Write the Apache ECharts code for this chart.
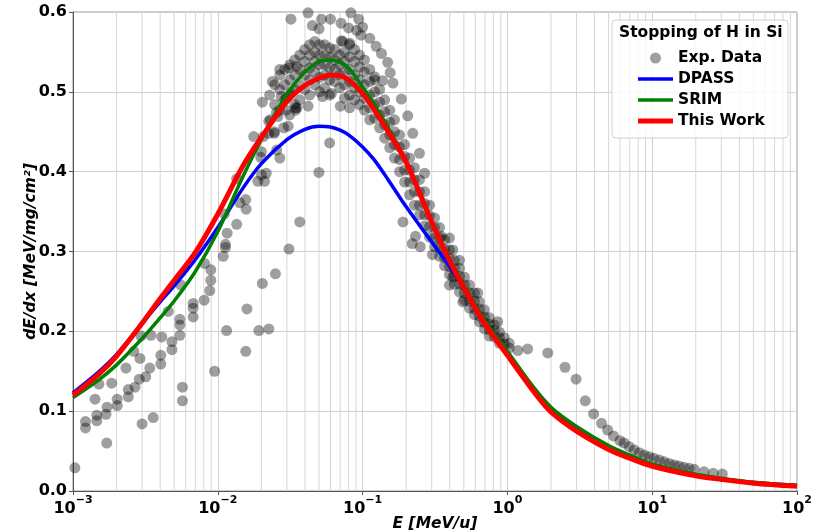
<!DOCTYPE html>
<html><head><meta charset="utf-8">
<script src="https://cdn.jsdelivr.net/npm/echarts@6/dist/echarts.min.js"></script>
<style>html,body{margin:0;padding:0;background:#fff}#c{width:821px;height:532px}</style>
</head><body><div id="c"></div>
<script>
// ---- curve data (E in MeV/u, dE/dx in MeV/(mg/cm^2)) ----
const curveE = [0.001,0.0015,0.002,0.003,0.004,0.005,0.007,0.01,0.015,0.02,0.03,0.04,0.05,0.06,0.07,0.08,0.1,0.12,0.15,0.2,0.3,0.4,0.5,0.7,1,1.5,2,3,5,7,10,20,30,50,100];
const dpassY = [0.123,0.149,0.171,0.210,0.237,0.257,0.290,0.330,0.380,0.410,0.440,0.453,0.457,0.456,0.452,0.446,0.431,0.415,0.390,0.356,0.312,0.281,0.255,0.212,0.173,0.129,0.103,0.080,0.056,0.044,0.033,0.0205,0.0155,0.0105,0.007];
const srimY  = [0.117,0.139,0.158,0.191,0.217,0.238,0.275,0.325,0.395,0.440,0.497,0.525,0.538,0.540,0.537,0.530,0.506,0.485,0.455,0.412,0.338,0.290,0.258,0.213,0.175,0.131,0.105,0.081,0.057,0.045,0.034,0.021,0.016,0.011,0.0072];
const thisWorkY = [0.120,0.146,0.169,0.210,0.241,0.264,0.299,0.347,0.408,0.443,0.488,0.508,0.517,0.521,0.520,0.515,0.498,0.478,0.450,0.412,0.337,0.288,0.255,0.209,0.170,0.126,0.099,0.075,0.052,0.041,0.031,0.019,0.0145,0.0098,0.006];

// ---- experimental points [E, dE/dx] ----
const expLow = [[0.00103,0.029],[0.00122,0.087],[0.00122,0.079],[0.00142,0.115],[0.00146,0.095],[0.00146,0.088],[0.00151,0.134],[0.00171,0.060],[0.00169,0.096],[0.00172,0.105],[0.00185,0.135],[0.00202,0.115],[0.00202,0.107],[0.00232,0.154],[0.00241,0.127],[0.00241,0.118],[0.00263,0.175],[0.00268,0.130],[0.00287,0.140],[0.0029,0.166],[0.0030,0.084],[0.00295,0.194],[0.00318,0.143],[0.00339,0.154],[0.00345,0.195],[0.00358,0.092],[0.00404,0.159],[0.00404,0.170],[0.0041,0.193],[0.00454,0.225],[0.00482,0.177],[0.00482,0.187],[0.00547,0.195],[0.00547,0.208],[0.00547,0.215],[0.0057,0.130],[0.0057,0.113],[0.00555,0.258],[0.00676,0.235],[0.00676,0.229],[0.00676,0.218],[0.00805,0.239],[0.0081,0.285],[0.00895,0.277],[0.00895,0.264],[0.0088,0.251],[0.0095,0.150],[0.0109,0.294],[0.0113,0.305],[0.0113,0.309],[0.0116,0.323],[0.0111,0.347],[0.0115,0.201],[0.0135,0.334],[0.0135,0.391],[0.0142,0.361],[0.0156,0.365],[0.0157,0.353],[0.0156,0.175],[0.0159,0.228],[0.0192,0.201],[0.0225,0.203],[0.0203,0.260],[0.025,0.272],[0.031,0.303],[0.0368,0.337],[0.0189,0.388],[0.021,0.388],[0.020,0.396],[0.0216,0.398],[0.0198,0.418],[0.020,0.425],[0.0255,0.427],[0.0268,0.417],[0.0177,0.444],[0.0206,0.444],[0.0225,0.448],[0.0246,0.448],[0.0245,0.450],[0.0285,0.455],[0.0225,0.463],[0.023,0.465],[0.026,0.469],[0.0254,0.474],[0.0297,0.477],[0.0345,0.477],[0.0306,0.457],[0.0203,0.487],[0.0274,0.494],[0.0297,0.492],[0.032,0.499],[0.0345,0.480],[0.0238,0.513],[0.0268,0.528],[0.031,0.530],[0.035,0.532],[0.032,0.591]];
const expPeak = [[0.0228,0.496],[0.0247,0.509],[0.0247,0.484],[0.0268,0.521],[0.0268,0.503],[0.0268,0.477],[0.0290,0.528],[0.0290,0.509],[0.0290,0.490],[0.0314,0.534],[0.0314,0.515],[0.0314,0.496],[0.0314,0.471],[0.0340,0.540],[0.0340,0.521],[0.0340,0.503],[0.0340,0.484],[0.0368,0.546],[0.0368,0.528],[0.0368,0.509],[0.0368,0.490],[0.0398,0.553],[0.0398,0.538],[0.0398,0.521],[0.0398,0.503],[0.0431,0.559],[0.0431,0.546],[0.0431,0.530],[0.0431,0.515],[0.0431,0.496],[0.0467,0.563],[0.0467,0.550],[0.0467,0.538],[0.0467,0.525],[0.0467,0.509],[0.0505,0.559],[0.0505,0.546],[0.0505,0.534],[0.0505,0.518],[0.0505,0.500],[0.0547,0.559],[0.0547,0.546],[0.0547,0.534],[0.0547,0.521],[0.0547,0.505],[0.0592,0.555],[0.0592,0.543],[0.0592,0.530],[0.0592,0.515],[0.0592,0.496],[0.0641,0.553],[0.0641,0.540],[0.0641,0.528],[0.0641,0.513],[0.0694,0.546],[0.0694,0.534],[0.0694,0.521],[0.0694,0.505],[0.0751,0.550],[0.0751,0.538],[0.0751,0.525],[0.0751,0.509],[0.0751,0.492],[0.0813,0.559],[0.0813,0.544],[0.0813,0.528],[0.0813,0.513],[0.0813,0.496],[0.0813,0.480],[0.0881,0.553],[0.0881,0.538],[0.0881,0.521],[0.0881,0.505],[0.0881,0.490],[0.0953,0.546],[0.0953,0.531],[0.0953,0.515],[0.0953,0.500],[0.0953,0.484],[0.103,0.540],[0.103,0.525],[0.103,0.509],[0.103,0.492],[0.103,0.477],[0.112,0.528],[0.112,0.513],[0.112,0.496],[0.112,0.480],[0.112,0.465],[0.121,0.515],[0.121,0.500],[0.121,0.484],[0.121,0.467],[0.131,0.503],[0.131,0.487],[0.131,0.471],[0.131,0.455],[0.142,0.490],[0.142,0.475],[0.142,0.459],[0.142,0.442],[0.154,0.477],[0.154,0.462],[0.154,0.446],[0.154,0.430],[0.166,0.465],[0.166,0.450],[0.166,0.434],[0.166,0.417],[0.180,0.446],[0.180,0.431],[0.180,0.415],[0.180,0.400],[0.195,0.434],[0.195,0.419],[0.195,0.402],[0.195,0.387],[0.211,0.417],[0.211,0.402],[0.211,0.387],[0.211,0.371],[0.228,0.405],[0.228,0.390],[0.228,0.375],[0.228,0.358],[0.247,0.390],[0.247,0.375],[0.247,0.358],[0.247,0.346],[0.268,0.375],[0.268,0.360],[0.268,0.346],[0.268,0.332],[0.290,0.358],[0.290,0.345],[0.290,0.331],[0.290,0.318],[0.314,0.342],[0.314,0.330],[0.314,0.317],[0.314,0.306],[0.340,0.330],[0.340,0.317],[0.340,0.305],[0.340,0.294],[0.368,0.315],[0.368,0.303],[0.368,0.292],[0.368,0.282],[0.398,0.302],[0.398,0.291],[0.398,0.281],[0.398,0.271],[0.431,0.289],[0.431,0.279],[0.431,0.269],[0.431,0.259],[0.467,0.279],[0.467,0.269],[0.467,0.259],[0.467,0.249],[0.505,0.268],[0.505,0.258],[0.505,0.248],[0.505,0.239],[0.547,0.258],[0.547,0.248],[0.547,0.238],[0.547,0.229],[0.592,0.248],[0.592,0.238],[0.592,0.228],[0.592,0.221],[0.641,0.237],[0.641,0.228],[0.641,0.219],[0.641,0.212],[0.694,0.227],[0.694,0.218],[0.694,0.211],[0.694,0.203],[0.751,0.217],[0.751,0.209],[0.751,0.202],[0.751,0.194],[0.813,0.208],[0.813,0.201],[0.813,0.193],[0.881,0.199],[0.881,0.192],[0.881,0.185],[0.953,0.192],[0.953,0.184],[1.03,0.185],[1.03,0.179]];
const expHigh = [[0.042,0.599],[0.052,0.591],[0.060,0.591],[0.083,0.599],[0.094,0.591],[0.045,0.583],[0.050,0.579],[0.071,0.586],[0.080,0.580],[0.091,0.577],[0.100,0.581],[0.112,0.567],[0.0713,0.564],[0.0813,0.561],[0.0729,0.563],[0.0975,0.571],[0.124,0.557],[0.135,0.548],[0.149,0.537],[0.155,0.524],[0.162,0.511],[0.121,0.519],[0.1375,0.514],[0.185,0.491],[0.205,0.470],[0.222,0.448],[0.247,0.423],[0.268,0.398],[0.0499,0.399],[0.0592,0.436],[0.0352,0.480],[0.042,0.482],[0.0702,0.482],[0.0529,0.494],[0.0609,0.498],[0.190,0.337],[0.232,0.319],[0.220,0.310],[0.250,0.306],[0.304,0.296],[0.349,0.319],[0.398,0.317],[0.420,0.302],[0.467,0.289],[0.492,0.237],[0.398,0.258],[0.420,0.268],[0.624,0.248],[0.857,0.212],[1.18,0.176],[1.38,0.178],[1.90,0.173],[2.50,0.155],[2.98,0.140],[3.45,0.113],[3.94,0.0965],[4.47,0.0848],[4.92,0.0764],[5.41,0.069],[5.99,0.063],[6.41,0.060],[6.94,0.0555],[7.52,0.0514],[8.13,0.048],[8.81,0.0451],[9.53,0.043],[10.3,0.041],[11.2,0.0388],[12.1,0.0367],[13.1,0.0346],[14.2,0.0326],[15.3,0.0313],[16.6,0.0297],[18.0,0.0284],[19.5,0.0272],[22.8,0.0242],[26.4,0.0222],[30.5,0.0213]];

// ---- axes / labels ----
const xTickBase = '10';
const xTickExp = {'-3':'−3','-2':'−2','-1':'−1','0':'0','1':'1','2':'2'};
const yTickLabels = ['0.0','0.1','0.2','0.3','0.4','0.5','0.6'];
const minorMultipliers = [2,3,4,5,6,7,8,9];
const decades = [0.001,0.01,0.1,1,10];
const legendTitle = 'Stopping of H in Si';
const seriesNames = ['Exp. Data','DPASS','SRIM','This Work'];

// minor log grid lines (drawn through the axes as vertical segments)
const minorGrid = [];
decades.forEach(d => minorMultipliers.forEach(m => {
  const v = +(d*m).toPrecision(3);
  minorGrid.push([v, 0], [v, 0.6], [v, '-']);
}));

const FONT = 'DejaVu Sans';
const pair = (xs, ys) => xs.map((x,i)=>[x, ys[i]]);
const expAll = expLow.concat(expPeak, expHigh);
const lineIcon = h => 'path://M0,0H100V' + h + 'H0Z';

const chart = echarts.init(document.getElementById('c'), null, {renderer:'canvas'});
chart.setOption({
  animation: false,
  backgroundColor: '#fff',
  grid: {left: 73, right: 24, top: 12, bottom: 41, show: true, borderColor: '#999', borderWidth: 1,
    containLabel: false, outerBoundsMode: 'none'},
  xAxis: {
    type: 'log', logBase: 10, min: 0.001, max: 100,
    name: 'E [MeV/u]', nameLocation: 'middle', nameGap: 25, nameMoveOverlap: false,
    nameTextStyle: {fontFamily: FONT, fontWeight: 'bold', fontStyle: 'italic', fontSize: 15.5, color: '#000'},
    axisLine: {show: true, lineStyle: {color: '#555', width: 1}},
    axisTick: {show: true, length: 4, lineStyle: {color: '#555'}},
    axisLabel: {margin: 4, color: '#000',
      formatter: v => '{b|' + xTickBase + '}{s|' + (xTickExp[String(Math.round(Math.log10(v)))] || '') + '}',
      rich: {
        b: {fontFamily: FONT, fontWeight: 'bold', fontSize: 16, color: '#000', lineHeight: 22, verticalAlign: 'bottom'},
        s: {fontFamily: FONT, fontWeight: 'bold', fontSize: 11, color: '#000', lineHeight: 15, verticalAlign: 'top'}
      }},
    splitLine: {show: true, lineStyle: {color: '#cfcfcf', width: 1}}
  },
  yAxis: {
    type: 'value', min: 0, max: 0.6, interval: 0.1,
    name: 'dE/dx [MeV/mg/cm²]', nameLocation: 'middle', nameGap: 34, nameRotate: 90, nameMoveOverlap: false,
    nameTextStyle: {fontFamily: FONT, fontWeight: 'bold', fontStyle: 'italic', fontSize: 15.5, color: '#000'},
    axisLine: {show: true, lineStyle: {color: '#555', width: 1}},
    axisTick: {show: true, length: 4, lineStyle: {color: '#555'}},
    axisLabel: {fontFamily: FONT, fontWeight: 'bold', fontSize: 16, color: '#000', margin: 6,
      formatter: v => yTickLabels[Math.round(v*10)]},
    splitLine: {show: true, lineStyle: {color: '#cfcfcf', width: 1}}
  },
  legend: {
    left: 633, top: 45, orient: 'vertical', itemWidth: 35, itemHeight: 11, itemGap: 5, z: 5,
    textStyle: {fontFamily: FONT, fontWeight: 'bold', fontSize: 15.5, color: '#000'},
    data: [
      {name: seriesNames[0], icon: 'circle'},
      {name: seriesNames[1], icon: lineIcon(10)},
      {name: seriesNames[2], icon: lineIcon(10)},
      {name: seriesNames[3], icon: lineIcon(14)}
    ]
  },
  graphic: [
    {type: 'rect', z: 3, shape: {x: 612, y: 20, width: 176, height: 118, r: 4},
      style: {fill: 'rgba(255,255,255,0.8)', stroke: '#d0d0d0', lineWidth: 1}},
    {type: 'text', z: 6, style: {text: legendTitle, x: 619, y: 33, fontFamily: FONT, fontWeight: 'bold', fontSize: 15.5, fill: '#000', verticalAlign: 'middle'}}
  ],
  series: [
    {type: 'line', data: minorGrid, z: 1, silent: true, symbol: 'none', connectNulls: false,
      lineStyle: {color: '#d6d6d6', width: 1}},
    {name: seriesNames[0], type: 'scatter', data: expAll, symbol: 'circle', symbolSize: 11, z: 2,
      itemStyle: {color: 'rgba(0,0,0,0.47)', borderWidth: 0}},
    {name: seriesNames[1], type: 'line', data: pair(curveE, dpassY), symbol: 'none', smooth: 0.3, z: 3,
      lineStyle: {color: '#0000ff', width: 3.5}, itemStyle: {color: '#0000ff'}},
    {name: seriesNames[2], type: 'line', data: pair(curveE, srimY), symbol: 'none', smooth: 0.3, z: 3,
      lineStyle: {color: '#008000', width: 3.5}, itemStyle: {color: '#008000'}},
    {name: seriesNames[3], type: 'line', data: pair(curveE, thisWorkY), symbol: 'none', smooth: 0.3, z: 3,
      lineStyle: {color: '#ff0000', width: 5}, itemStyle: {color: '#ff0000'}}
  ]
});
</script>
</body></html>
